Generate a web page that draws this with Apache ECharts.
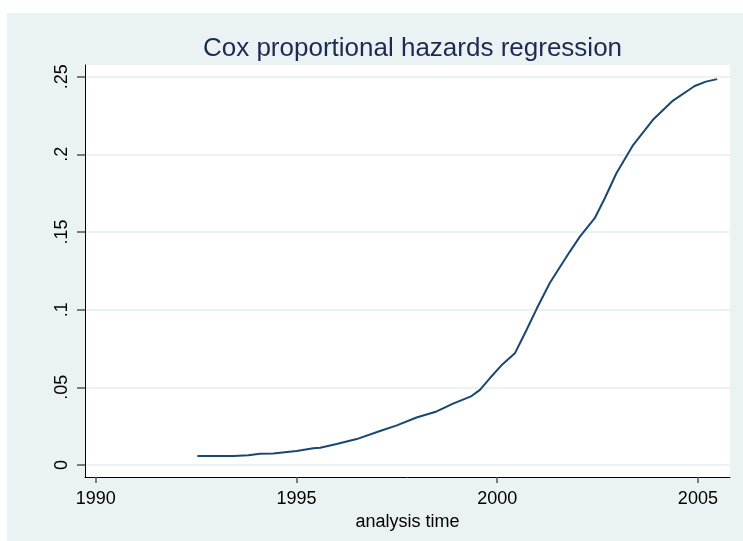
<!DOCTYPE html>
<html>
<head>
<meta charset="utf-8">
<title>Cox proportional hazards regression</title>
<script src="https://cdn.jsdelivr.net/npm/echarts@6/dist/echarts.min.js"></script>
<style>
  html, body { margin: 0; padding: 0; background: #ffffff; }
  #chart { width: 743px; height: 541px; }
</style>
</head>
<body>
<div id="chart"></div>
<script>
// Cumulative hazard curve over analysis time
const years = [1992.53, 1993.43, 1993.80, 1994.09, 1994.42, 1995.00, 1995.42, 1995.59,
  1996.00, 1996.50, 1997.08, 1997.50, 1997.99, 1998.49, 1998.90, 1999.36, 1999.57,
  1999.82, 2000.10, 2000.44, 2000.73, 2000.98, 2001.31, 2001.81, 2002.06, 2002.43,
  2002.68, 2002.97, 2003.39, 2003.88, 2004.38, 2004.92, 2005.20, 2005.48];
const hazard = [0.0058, 0.0058, 0.0063, 0.0073, 0.0075, 0.0090, 0.0108, 0.0111,
  0.0135, 0.0167, 0.0219, 0.0255, 0.0306, 0.0345, 0.0395, 0.0444, 0.0484,
  0.0560, 0.0640, 0.0719, 0.0869, 0.1004, 0.1172, 0.1374, 0.1470, 0.1589,
  0.1717, 0.1878, 0.2061, 0.2222, 0.2346, 0.2440, 0.2468, 0.2484];

// Axis ticks and their labels
const xTicks = [1990, 1995, 2000, 2005];
const xTickLabels = ['1990', '1995', '2000', '2005'];
const yTicks = [0, 0.05, 0.1, 0.15, 0.2, 0.25];
const yTickLabels = ['0', '.05', '.1', '.15', '.2', '.25'];

const titleText = 'Cox proportional hazards regression';
const xTitle = 'analysis time';

const FONT = '"Liberation Sans", Arial, Helvetica, sans-serif';
const BG = '#eaf2f3';

function labelFor(ticks, labels) {
  return v => {
    const i = ticks.findIndex(t => Math.abs(t - v) < 1e-9);
    return i >= 0 ? labels[i] : '';
  };
}

const chart = echarts.init(document.getElementById('chart'), null, { renderer: 'canvas' });

const points = years.map((y, i) => [y, hazard[i]]);

chart.setOption({
  backgroundColor: '#ffffff',
  animation: false,
  graphic: [{
    type: 'rect',
    z: -10,
    silent: true,
    shape: { x: 7, y: 13, width: 736, height: 528 },
    style: { fill: BG }
  }],
  title: {
    text: titleText,
    left: 407.5,
    textAlign: 'center',
    top: 31,
    textStyle: { fontFamily: FONT, fontSize: 26, fontWeight: 'normal', color: '#1e2a50' }
  },
  grid: {
    left: 85, right: 13, top: 65, bottom: 64,
    show: true, backgroundColor: '#ffffff', borderWidth: 0
  },
  xAxis: {
    type: 'value',
    min: 1989.73,
    max: 2005.80,
    name: xTitle,
    nameLocation: 'middle',
    nameGap: 28,
    nameTextStyle: { fontFamily: FONT, fontSize: 18, color: '#000000' },
    axisLine: { onZero: false, lineStyle: { color: '#000000', width: 1 } },
    axisTick: { show: true, length: 6, customValues: xTicks, lineStyle: { color: '#555555', width: 1.5 } },
    axisLabel: {
      customValues: xTicks, margin: 13,
      fontFamily: FONT, fontSize: 18, color: '#000000',
      formatter: labelFor(xTicks, xTickLabels)
    },
    splitLine: { show: false }
  },
  yAxis: {
    type: 'value',
    min: -0.0077,
    max: 0.2575,
    axisLine: { show: true, lineStyle: { color: '#000000', width: 1 } },
    axisTick: { show: true, length: 8, customValues: yTicks, lineStyle: { color: '#555555', width: 1.5 } },
    axisLabel: {
      customValues: yTicks, rotate: 90, margin: 14,
      fontFamily: FONT, fontSize: 18, color: '#000000',
      formatter: labelFor(yTicks, yTickLabels)
    },
    splitLine: { show: true, lineStyle: { color: BG, width: 2 } }
  },
  series: [{
    type: 'line',
    data: points,
    showSymbol: false,
    smooth: false,
    lineStyle: { color: '#1a476f', width: 2 }
  }]
});
</script>
</body>
</html>
